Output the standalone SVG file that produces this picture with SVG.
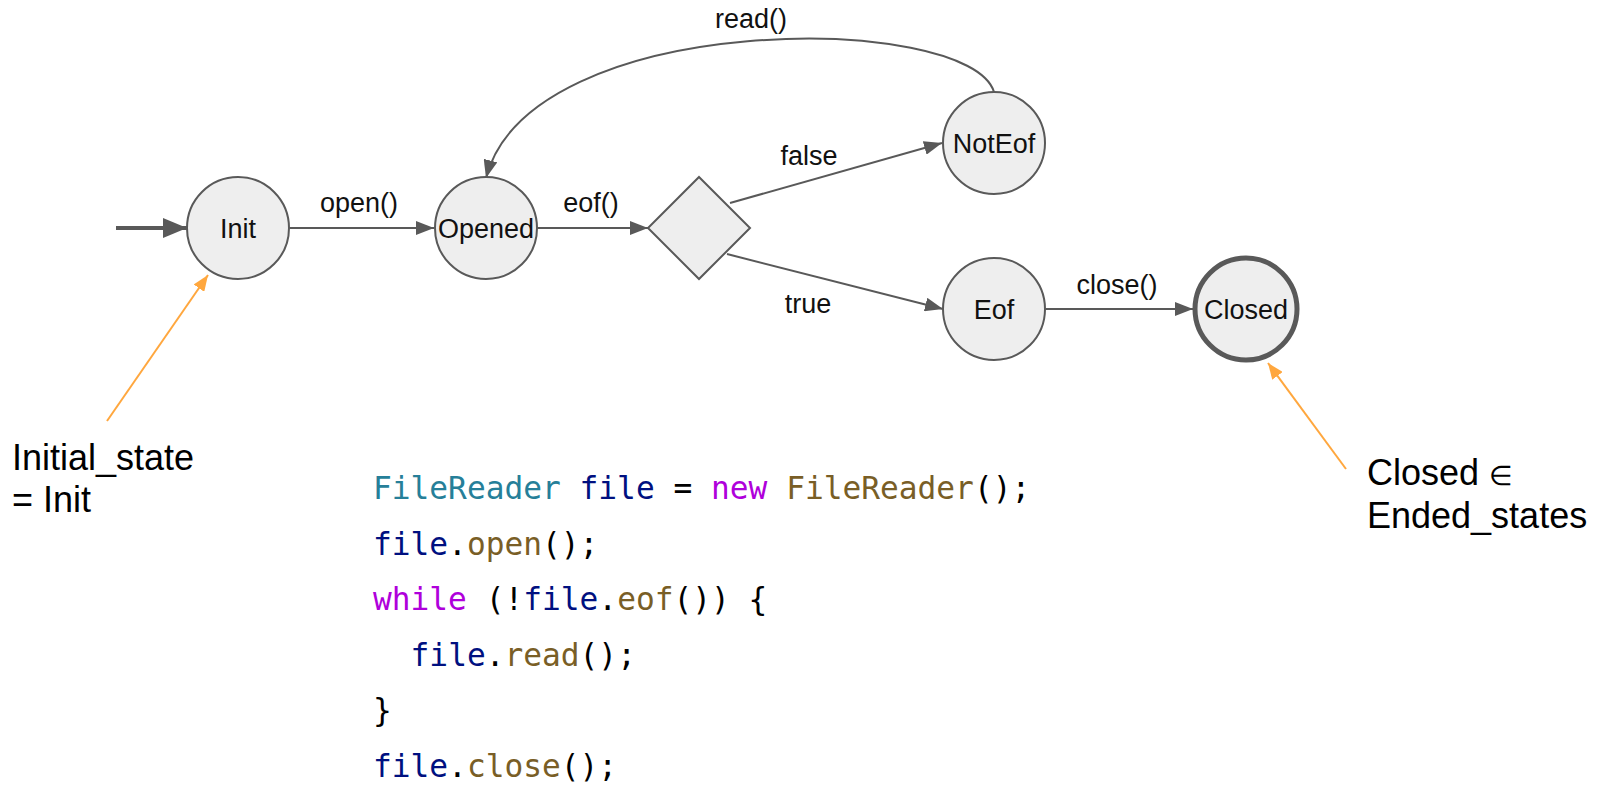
<svg xmlns="http://www.w3.org/2000/svg" width="1612" height="789" viewBox="0 0 1612 789">
<style>
.node{fill:#eeeeee;stroke:#595959;stroke-width:2}
.final{fill:#eeeeee;stroke:#595959;stroke-width:5}
.lbl{font-family:"Liberation Sans",Arial,sans-serif;font-size:27px;fill:#111;text-anchor:middle}
.edge{fill:none;stroke:#595959;stroke-width:2}
.start{fill:none;stroke:#595959;stroke-width:4}
.note{fill:none;stroke:#FFA73E;stroke-width:2}
.ann{font-family:"Liberation Sans",Arial,sans-serif;font-size:36px;fill:#000}
.code{font-family:"DejaVu Sans Mono","Liberation Mono",monospace;font-size:31.2px;fill:#000}
.ty{fill:#267f99}.va{fill:#001080}.kw{fill:#AF00DB}.fn{fill:#795E26}
</style>
<defs>
<marker id="arr" markerWidth="18" markerHeight="14" refX="18" refY="7" orient="auto" markerUnits="userSpaceOnUse"><path d="M0,0 L18,7 L0,14 z" fill="#595959"/></marker>
<marker id="arrBig" markerWidth="24" markerHeight="20" refX="24" refY="10" orient="auto" markerUnits="userSpaceOnUse"><path d="M0,0 L24,10 L0,20 z" fill="#595959"/></marker>
<marker id="arrOr" markerWidth="16" markerHeight="13" refX="16" refY="6.5" orient="auto" markerUnits="userSpaceOnUse"><path d="M0,0 L16,6.5 L0,13 z" fill="#FFA73E"/></marker>
</defs>

<g id="connectors">
<line class="start" x1="116" y1="228" x2="187" y2="228" marker-end="url(#arrBig)"/>
<line class="edge" x1="289" y1="228" x2="434" y2="228" marker-end="url(#arr)"/>
<line class="edge" x1="537" y1="228" x2="648" y2="228" marker-end="url(#arr)"/>
<line class="edge" x1="730" y1="203" x2="942" y2="143" marker-end="url(#arr)"/>
<line class="edge" x1="727" y1="254" x2="943" y2="309" marker-end="url(#arr)"/>
<line class="edge" x1="1045" y1="309" x2="1193" y2="309" marker-end="url(#arr)"/>
<path class="edge" d="M994,92 C970,12 530,8 486,178" marker-end="url(#arr)"/>
<text class="lbl" x="359" y="212">open()</text>
<text class="lbl" x="591" y="212">eof()</text>
<text class="lbl" x="809" y="165">false</text>
<text class="lbl" x="808" y="313">true</text>
<text class="lbl" x="1117" y="294">close()</text>
<text class="lbl" x="751" y="28">read()</text>
</g>

<g id="init"><circle class="node" cx="238" cy="228" r="51"/><text class="lbl" x="238" y="238">Init</text></g>
<g id="opened"><circle class="node" cx="486" cy="228" r="51"/><text class="lbl" x="486" y="238">Opened</text></g>
<g id="decision"><polygon class="node" points="699,177 750,228 699,279 648,228"/></g>
<g id="noteof"><circle class="node" cx="994" cy="143" r="51"/><text class="lbl" x="994" y="153">NotEof</text></g>
<g id="eof"><circle class="node" cx="994" cy="309" r="51"/><text class="lbl" x="994" y="319">Eof</text></g>
<g id="closed"><circle class="final" cx="1246" cy="309" r="51"/><text class="lbl" x="1246" y="319">Closed</text></g>

<g id="annotations">
<line class="note" x1="107" y1="421" x2="208" y2="275" marker-end="url(#arrOr)"/>
<line class="note" x1="1346" y1="469" x2="1268" y2="363" marker-end="url(#arrOr)"/>
<text class="ann" x="12" y="470">Initial_state</text>
<text class="ann" x="12" y="512">= Init</text>
<text class="ann" x="1367" y="485">Closed <tspan font-size="27">∈</tspan></text>
<text class="ann" x="1367" y="528">Ended_states</text>
</g>

<g id="code" class="code">
<text x="373" y="499"><tspan class="ty">FileReader</tspan> <tspan class="va">file</tspan> = <tspan class="kw">new</tspan> <tspan class="fn">FileReader</tspan>();</text>
<text x="373" y="554.5"><tspan class="va">file</tspan>.<tspan class="fn">open</tspan>();</text>
<text x="373" y="610"><tspan class="kw">while</tspan> (!<tspan class="va">file</tspan>.<tspan class="fn">eof</tspan>()) {</text>
<text x="410.6" y="665.5"><tspan class="va">file</tspan>.<tspan class="fn">read</tspan>();</text>
<text x="373" y="721">}</text>
<text x="373" y="776.5"><tspan class="va">file</tspan>.<tspan class="fn">close</tspan>();</text>
</g>
</svg>
